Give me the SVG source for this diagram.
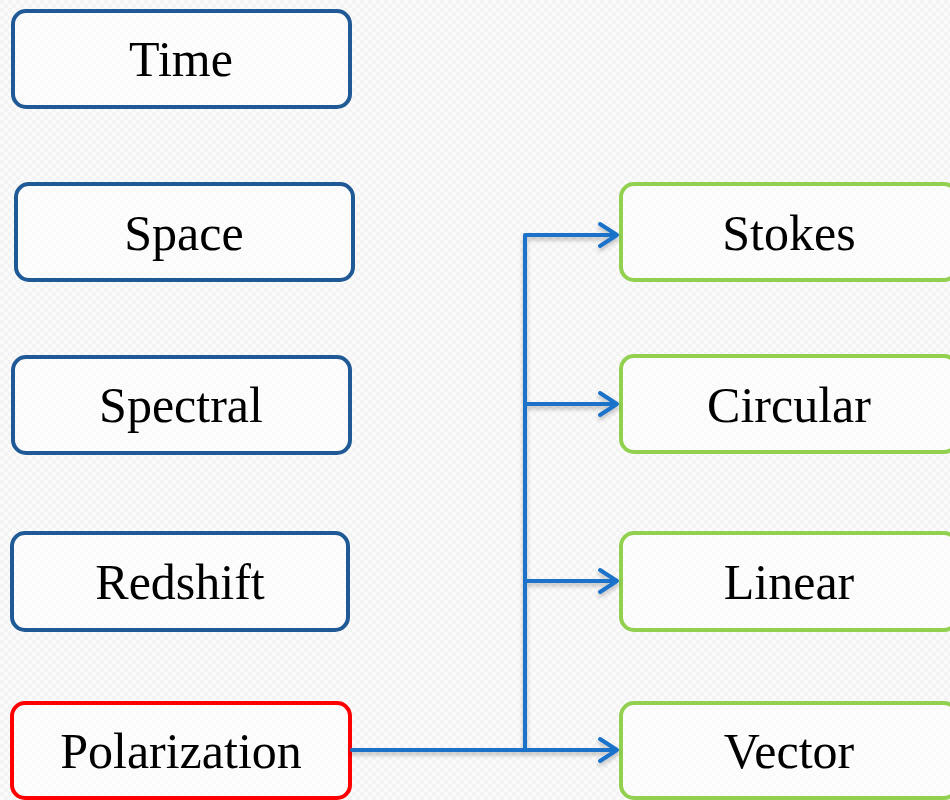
<svg xmlns="http://www.w3.org/2000/svg" width="950" height="800" viewBox="0 0 950 800">
<defs>
<pattern id="bg" width="8" height="8" patternUnits="userSpaceOnUse">
<rect width="8" height="8" fill="#fbfbfb"/>
<rect width="4" height="4" fill="#f3f3f3"/>
<rect x="4" y="4" width="4" height="4" fill="#f3f3f3"/>
</pattern>
<filter id="sh" x="-10%" y="-10%" width="120%" height="130%">
<feDropShadow dx="0" dy="3" stdDeviation="2" flood-color="#000" flood-opacity="0.25"/>
</filter>
</defs>
<style>
.box{fill:#ffffff;fill-opacity:0.6;stroke-width:4}
.b{stroke:#1f5a96}
.r{stroke:#ff0000}
.g{stroke:#92d050}
.t{font-family:"Liberation Serif",serif;font-size:50px;fill:#000;text-anchor:middle}
.c{fill:none;stroke:#1a72c9;stroke-width:4;stroke-linecap:round;stroke-linejoin:round}
</style>
<rect width="950" height="800" fill="url(#bg)"/>
<g id="time"><rect class="box b" x="13" y="11" width="337" height="96" rx="13"/><text class="t" x="181" y="76">Time</text></g>
<g id="space"><rect class="box b" x="16" y="184" width="337" height="96" rx="13"/><text class="t" x="184" y="250">Space</text></g>
<g id="spectral"><rect class="box b" x="13" y="357" width="337" height="96" rx="13"/><text class="t" x="181" y="422">Spectral</text></g>
<g id="redshift"><rect class="box b" x="12" y="533" width="336" height="97" rx="13"/><text class="t" x="180" y="599">Redshift</text></g>
<g id="polarization"><rect class="box r" x="12" y="703" width="338" height="95" rx="13"/><text class="t" x="181" y="768">Polarization</text></g>
<g id="stokes"><rect class="box g" x="621" y="184" width="336" height="96" rx="13"/><text class="t" x="789" y="250">Stokes</text></g>
<g id="circular"><rect class="box g" x="621" y="356" width="336" height="96" rx="13"/><text class="t" x="789" y="422">Circular</text></g>
<g id="linear"><rect class="box g" x="621" y="533" width="336" height="97" rx="13"/><text class="t" x="789" y="599">Linear</text></g>
<g id="vector"><rect class="box g" x="621" y="703" width="336" height="95" rx="13"/><text class="t" x="789" y="768">Vector</text></g>
<g id="connectors" filter="url(#sh)">
<path class="c" d="M352 750 H616"/>
<path class="c" d="M525 750 V235 H616"/>
<path class="c" d="M525 404 H616"/>
<path class="c" d="M525 581 H616"/>
<path class="c" d="M600 224 L617 235 L600 246"/>
<path class="c" d="M600 393 L617 404 L600 415"/>
<path class="c" d="M600 570 L617 581 L600 592"/>
<path class="c" d="M600 739 L617 750 L600 761"/>
</g>
</svg>
